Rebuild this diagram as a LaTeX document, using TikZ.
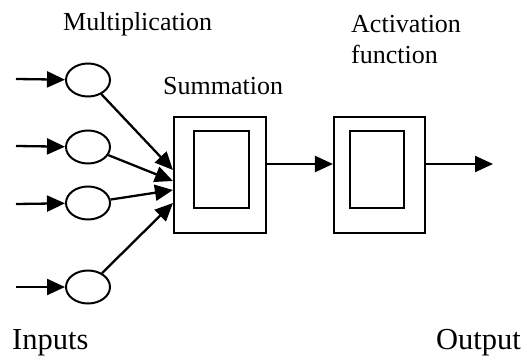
\documentclass[tikz,border=0pt]{standalone}
\usepackage{fontspec}
\setmainfont{Liberation Serif}
\usetikzlibrary{arrows.meta,shapes.geometric,positioning}

\begin{document}
\begin{tikzpicture}[
        x=1pt, y=-1pt, % pixel grid of the reference
        mult/.style={
            draw,
            ellipse,
            line width=2pt,
            minimum width=44pt,
            minimum height=33pt,
            inner sep=0pt
        },
        outerbox/.style={
            draw,
            rectangle,
            line width=2.1pt,
            minimum width=92pt,
            minimum height=116pt,
            inner sep=0pt
        },
        innerbox/.style={
            draw,
            rectangle,
            line width=1.9pt,
            minimum width=55pt,
            minimum height=77pt,
            inner sep=0pt
        },
        arrow/.style={
            -{Triangle[length=18pt,width=16pt]},
            line width=2.3pt
        },
        label/.style={
            font=\fontsize{26}{31}\selectfont,
            inner sep=0pt
        },
        biglabel/.style={
            font=\fontsize{30.5}{36}\selectfont,
            inner sep=0pt
        }
    ]
        \useasboundingbox (0,0) rectangle (526,358);

        % multiplication units
        \node (mult1) [mult] at (88,80) {};
        \node (mult2) [mult] at (88,147) {};
        \node (mult3) [mult] at (88,203) {};
        \node (mult4) [mult] at (88,287) {};

        \coordinate (in1) at (16,79);
        \coordinate (in2) at (16,146);
        \coordinate (in3) at (16,204);
        \coordinate (in4) at (16,287);

        % summation and activation blocks
        \node (sum) [outerbox] at (220,175) {};
        \node (suminner) [innerbox] at (221.5,169.5) {};
        \node (act) [outerbox, minimum width=91pt] at (379.5,175) {};
        \node (actinner) [innerbox, minimum width=54pt] at (377,169.5) {};
        \coordinate (out) at (493,164);

        % labels
        \node (multlabel) [label, anchor=base west] at (63,31) {Multiplication};
        \node (sumlabel) [label, anchor=base west] at (163,95) {Summation};
        \node (actlabel) [label, anchor=base west, align=left] at (351,64) {Activation\\function};
        \node (inlabel) [biglabel, anchor=base west] at (12,349) {Inputs};
        \node (outlabel) [biglabel, anchor=base east] at (521,349) {Output};

        % connectors
        \foreach \i in {1,...,4}
            \draw[arrow] (in\i) -- (mult\i);
        \draw[arrow] (mult1) -- ([yshift=5pt]sum.west);
        \draw[arrow] (mult2) -- ([yshift=-6pt]sum.west);
        \draw[arrow] (mult3) -- ([yshift=-15pt]sum.west);
        \draw[arrow] (mult4) -- ([yshift=-28pt]sum.west);
        \draw[arrow] ([yshift=11pt]sum.east) -- ([yshift=11pt]act.west);
        \draw[arrow] ([yshift=11pt]act.east) -- (out);
    \end{tikzpicture}
\end{document}
